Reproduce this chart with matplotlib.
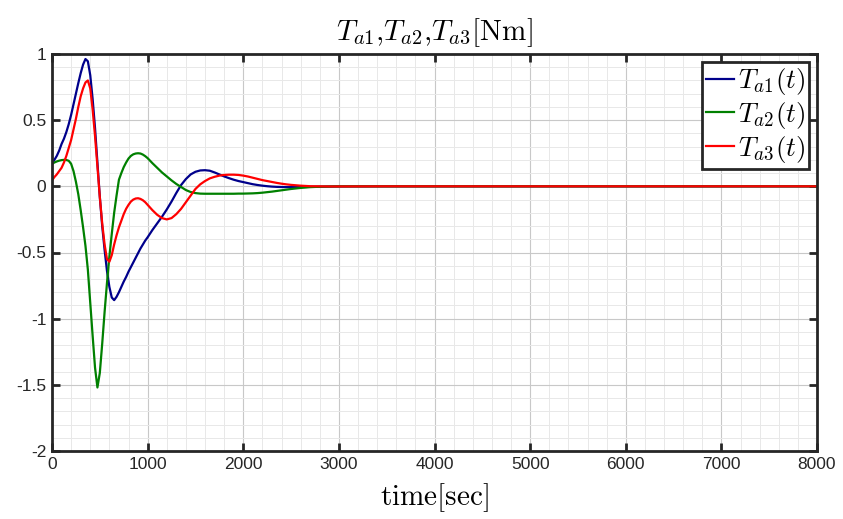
import numpy as np
import matplotlib
matplotlib.use("Agg")
import matplotlib.pyplot as plt
from matplotlib.ticker import MultipleLocator

# time samples [sec]
t = [0, 25, 50, 75, 100, 125, 150, 175, 200, 225, 250, 275, 300, 325, 350, 375,
     400, 425, 450, 475, 500, 525, 550, 575, 600, 625, 650, 675, 700, 725, 750,
     775, 800, 825, 850, 875, 900, 925, 950, 975, 1000,
     1050, 1100, 1150, 1200, 1250, 1300, 1350, 1400, 1450, 1500, 1550, 1600,
     1650, 1700, 1750, 1800, 1850, 1900, 1950, 2000, 2050, 2100, 2150, 2200,
     2250, 2300, 2350, 2400, 2450, 2500, 2600, 2700, 2800, 2900, 3000,
     3500, 4000, 4500, 5000, 5500, 6000, 6500, 7000, 7500, 8000]

Ta1 = [0.17, 0.20, 0.23, 0.27, 0.32, 0.36, 0.41, 0.47, 0.54, 0.62, 0.70, 0.78, 0.855, 0.92, 0.962, 0.945,
       0.84, 0.66, 0.44, 0.18, -0.08, -0.30, -0.48, -0.64, -0.76, -0.84, -0.86, -0.835, -0.80, -0.76, -0.72,
       -0.685, -0.645, -0.61, -0.575, -0.54, -0.505, -0.47, -0.44, -0.41, -0.385,
       -0.33, -0.28, -0.23, -0.175, -0.115, -0.05, 0.01, 0.055, 0.09, 0.11, 0.12, 0.122,
       0.118, 0.105, 0.09, 0.075, 0.062, 0.05, 0.04, 0.032, 0.024, 0.016, 0.01, 0.005,
       0.001, -0.002, -0.004, -0.005, -0.006, -0.006, -0.005, -0.004, -0.003, -0.002, -0.001,
       0.0, 0.0, 0.0, 0.0, 0.0, 0.0, 0.0, 0.0, 0.0, 0.0]

Ta2 = [0.17, 0.18, 0.188, 0.194, 0.198, 0.20, 0.199, 0.193, 0.17, 0.115, 0.035, -0.06, -0.18, -0.31, -0.45, -0.63,
       -0.88, -1.13, -1.37, -1.52, -1.41, -1.19, -0.95, -0.73, -0.53, -0.36, -0.20, -0.07, 0.05, 0.10, 0.145,
       0.18, 0.21, 0.23, 0.242, 0.248, 0.25, 0.248, 0.24, 0.228, 0.213,
       0.175, 0.14, 0.105, 0.075, 0.045, 0.018, -0.005, -0.028, -0.043, -0.051, -0.055, -0.056,
       -0.056, -0.056, -0.056, -0.056, -0.056, -0.056, -0.055, -0.055, -0.054, -0.053, -0.051, -0.048,
       -0.044, -0.04, -0.035, -0.03, -0.025, -0.02, -0.012, -0.006, -0.003, -0.001, 0.0,
       0.0, 0.0, 0.0, 0.0, 0.0, 0.0, 0.0, 0.0, 0.0, 0.0]

Ta3 = [0.045, 0.07, 0.09, 0.115, 0.14, 0.18, 0.23, 0.29, 0.35, 0.43, 0.51, 0.60, 0.68, 0.74, 0.785, 0.80,
       0.74, 0.58, 0.38, 0.15, -0.08, -0.28, -0.44, -0.55, -0.57, -0.52, -0.44, -0.37, -0.31, -0.26, -0.21,
       -0.17, -0.14, -0.115, -0.10, -0.092, -0.09, -0.095, -0.105, -0.12, -0.14,
       -0.18, -0.215, -0.24, -0.25, -0.24, -0.21, -0.17, -0.12, -0.07, -0.02, 0.015, 0.04,
       0.06, 0.072, 0.081, 0.086, 0.088, 0.088, 0.086, 0.081, 0.074, 0.065, 0.056, 0.047,
       0.04, 0.033, 0.026, 0.02, 0.015, 0.011, 0.005, 0.001, 0.0, -0.001, -0.001,
       0.0, 0.0, 0.0, 0.0, 0.0, 0.0, 0.0, 0.0, 0.0, 0.0]

labels = [r'$T_{a1}(t)$', r'$T_{a2}(t)$', r'$T_{a3}(t)$']
colors = ['#00008B', '#008000', '#FF0000']

plt.rcParams['mathtext.fontset'] = 'cm'
plt.rcParams['font.family'] = ['Liberation Sans', 'DejaVu Sans']

fig = plt.figure(figsize=(8.43, 5.19), dpi=100)
ax = fig.add_axes([52/843, 1-451/519, (817-52)/843, (451-54)/519])

for y, lab, c in zip([Ta1, Ta2, Ta3], labels, colors):
    ax.plot(t, y, color=c, lw=1.6, label=lab, solid_joinstyle='round')

ax.set_xlim(0, 8000)
ax.set_ylim(-2, 1)
ax.xaxis.set_major_locator(MultipleLocator(1000))
ax.xaxis.set_minor_locator(MultipleLocator(200))
ax.yaxis.set_major_locator(MultipleLocator(0.5))
ax.yaxis.set_minor_locator(MultipleLocator(0.1))
ax.set_yticks([1, 0.5, 0, -0.5, -1, -1.5, -2])
ax.set_yticklabels(['1', '0.5', '0', '-0.5', '-1', '-1.5', '-2'])

ax.grid(which='major', color='#c8c8c8', lw=0.8)
ax.grid(which='minor', color='#e8e8e8', lw=0.7)
ax.set_axisbelow(True)

for s in ax.spines.values():
    s.set_linewidth(2.0)
    s.set_color('#262626')
ax.tick_params(which='major', direction='in', length=6, width=2.0, color='#262626',
               top=True, right=True, labelsize=12.5, labelcolor='#262626', pad=4)
ax.tick_params(which='minor', length=0, top=True, right=True)

ax.set_title(r'$T_{a1}{,}T_{a2}{,}T_{a3}[\mathrm{Nm}]$', fontsize=21, color='#000000', pad=10)
ax.set_xlabel(r'$\mathrm{time[sec]}$', fontsize=21, labelpad=7)

leg = ax.legend(loc='upper right', fontsize=19.5, handlelength=1.0, handletextpad=0.15,
                borderpad=0.15, labelspacing=0.1, fancybox=False, framealpha=1,
                borderaxespad=0.3)
leg.get_frame().set_edgecolor('#262626')
leg.get_frame().set_linewidth(2.0)

fig.savefig('out.png', dpi=100)
